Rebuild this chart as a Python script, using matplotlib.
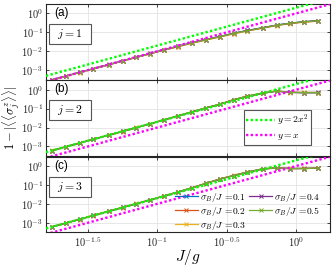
# -*- coding: utf-8 -*-
"""Three stacked log-log panels of 1 - |<<sigma_j^z>>| versus J/g."""

import numpy as np
import matplotlib
matplotlib.use('Agg')
import matplotlib.pyplot as plt
from matplotlib.patches import Rectangle

plt.rcParams['mathtext.fontset'] = 'cm'
plt.rcParams['font.family'] = ['Liberation Sans', 'DejaVu Sans']

# J/g sample points (log10):
vecLogJg = [-1.76, -1.66, -1.56, -1.46, -1.35, -1.25, -1.15, -1.05, -0.95,
            -0.85, -0.75, -0.65, -0.55, -0.45, -0.35, -0.24, -0.14, -0.04,
            0.06, 0.16]

# Disorder strengths:
lstSigma = ['0.1', '0.2', '0.3', '0.4', '0.5']

# log10(1 - |<<sigma_j^z>>|), one row per sigma_B/J, site j = 1:
lstLogJ1 = [
    [-3.52, -3.32, -3.12, -2.92, -2.71, -2.51, -2.31, -2.12, -1.93, -1.74,
     -1.55, -1.38, -1.22, -1.05, -0.90, -0.75, -0.61, -0.51, -0.43, -0.38],
    [-3.53, -3.33, -3.12, -2.93, -2.72, -2.52, -2.32, -2.13, -1.94, -1.75,
     -1.57, -1.40, -1.24, -1.07, -0.92, -0.77, -0.63, -0.53, -0.45, -0.40],
    [-3.54, -3.33, -3.13, -2.94, -2.72, -2.52, -2.33, -2.13, -1.94, -1.76,
     -1.58, -1.41, -1.25, -1.08, -0.93, -0.78, -0.64, -0.54, -0.46, -0.41],
    [-3.51, -3.31, -3.11, -2.92, -2.70, -2.50, -2.31, -2.11, -1.92, -1.73,
     -1.55, -1.38, -1.22, -1.05, -0.90, -0.76, -0.62, -0.52, -0.44, -0.39],
    [-3.52, -3.32, -3.12, -2.93, -2.71, -2.51, -2.32, -2.12, -1.93, -1.74,
     -1.56, -1.39, -1.23, -1.06, -0.91, -0.76, -0.62, -0.52, -0.44, -0.39]]

# Site j = 2:
lstLogJ2 = [
    [-3.22, -3.02, -2.82, -2.62, -2.40, -2.20, -2.00, -1.80, -1.59, -1.38,
     -1.17, -0.96, -0.77, -0.53, -0.34, -0.18, -0.08, -0.14, -0.16, -0.16],
    [-3.23, -3.03, -2.83, -2.62, -2.41, -2.21, -2.01, -1.81, -1.60, -1.39,
     -1.18, -0.97, -0.78, -0.54, -0.35, -0.19, -0.07, -0.13, -0.15, -0.15],
    [-3.21, -3.01, -2.81, -2.61, -2.39, -2.19, -1.99, -1.79, -1.58, -1.37,
     -1.16, -0.95, -0.76, -0.52, -0.33, -0.17, -0.06, -0.15, -0.14, -0.15],
    [-3.22, -3.02, -2.82, -2.62, -2.40, -2.20, -2.00, -1.80, -1.59, -1.38,
     -1.17, -0.96, -0.77, -0.53, -0.34, -0.18, -0.07, -0.14, -0.15, -0.14],
    [-3.22, -3.02, -2.82, -2.62, -2.40, -2.20, -2.00, -1.80, -1.59, -1.38,
     -1.17, -0.96, -0.77, -0.53, -0.34, -0.18, -0.07, -0.14, -0.15, -0.15]]

# Site j = 3:
lstLogJ3 = [
    [-3.22, -3.02, -2.82, -2.61, -2.39, -2.19, -1.99, -1.79, -1.58, -1.37,
     -1.15, -0.92, -0.69, -0.50, -0.32, -0.15, -0.10, -0.13, -0.13, -0.11],
    [-3.23, -3.03, -2.83, -2.62, -2.40, -2.20, -2.00, -1.80, -1.59, -1.38,
     -1.16, -0.93, -0.70, -0.51, -0.33, -0.16, -0.11, -0.14, -0.12, -0.12],
    [-3.21, -3.01, -2.81, -2.60, -2.38, -2.18, -1.98, -1.78, -1.57, -1.36,
     -1.14, -0.91, -0.68, -0.49, -0.31, -0.14, -0.09, -0.12, -0.14, -0.10],
    [-3.22, -3.02, -2.82, -2.61, -2.39, -2.19, -1.99, -1.79, -1.58, -1.37,
     -1.15, -0.92, -0.69, -0.50, -0.32, -0.15, -0.10, -0.13, -0.13, -0.11],
    [-3.22, -3.02, -2.82, -2.61, -2.39, -2.19, -1.99, -1.79, -1.58, -1.37,
     -1.15, -0.92, -0.69, -0.50, -0.32, -0.15, -0.10, -0.13, -0.13, -0.11]]

lstPanels = [lstLogJ1, lstLogJ2, lstLogJ3]
lstPanelLbl = ['(a)', '(b)', '(c)']
lstSiteLbl = ['$j=1$', '$j=2$', '$j=3$']

# Axis ticks:
vecXtickExp = [-1.5, -1.0, -0.5, 0.0]
lstXtickLbl = [r'$10^{-1.5}$', r'$10^{-1}$', r'$10^{-0.5}$', r'$10^{0}$']
vecYtickExp = [-3, -2, -1, 0]
lstYtickLbl = [r'$10^{-3}$', r'$10^{-2}$', r'$10^{-1}$', r'$10^{0}$']

# MATLAB default colours:
lstClr = ['#0072BD', '#D95319', '#EDB120', '#7E2F8E', '#77AC30']
strClrBox = '#262626'

varDpi = 100
fgr01 = plt.figure(figsize=(334.0/varDpi, 266.0/varDpi), dpi=varDpi)

vecX = np.power(10.0, np.array(vecLogJg))
tplXlim = (10.0**-1.802, 10.0**0.245)
vecXfit = np.logspace(np.log10(tplXlim[0]), np.log10(tplXlim[1]), 200)

varLeft = 46.0 / 334.0
varWidth = 284.0 / 334.0
varHght = 75.6 / 266.0
lstTop = [4.0, 80.3, 156.6]

for idxPnl in range(3):
    axs = fgr01.add_axes([varLeft, 1.0 - (lstTop[idxPnl] + 75.6) / 266.0,
                          varWidth, varHght])

    # Data series:
    for idxSer in range(len(lstSigma)):
        axs.plot(vecX, np.power(10.0, np.array(lstPanels[idxPnl][idxSer])),
                 color=lstClr[idxSer],
                 marker='x',
                 markersize=3.2,
                 markeredgewidth=0.7,
                 linewidth=0.9,
                 label=(r'$\sigma_B/J\,=\!\mathrm{' + lstSigma[idxSer]
                        + '}$'),
                 zorder=3)

    # Reference power laws:
    axs.plot(vecXfit, 2.0 * vecXfit**2, color='#00FF00',
             linestyle=(0, (1, 1)), linewidth=1.7, label=r'$y=2x^2$',
             zorder=4)
    axs.plot(vecXfit, vecXfit**2, color='#FF00FF',
             linestyle=(0, (1, 1)), linewidth=1.7, label=r'$y=x$',
             zorder=4)

    axs.set_xscale('log')
    axs.set_yscale('log')
    axs.set_xlim(tplXlim)
    axs.set_ylim(10.0**-3.5, 10.0**0.5)

    axs.set_xticks(np.power(10.0, vecXtickExp))
    axs.set_yticks(np.power(10.0, np.array(vecYtickExp, dtype=float)))
    axs.minorticks_off()
    axs.set_yticklabels(lstYtickLbl)
    if idxPnl == 2:
        axs.set_xticklabels(lstXtickLbl)
    else:
        axs.set_xticklabels([])

    axs.grid(True, color='#e3e3e3', linewidth=0.6)
    axs.set_axisbelow(True)
    for strSpn in axs.spines:
        axs.spines[strSpn].set_color(strClrBox)
        axs.spines[strSpn].set_linewidth(0.8)
    axs.tick_params(direction='in', length=2.5, width=0.6, top=True,
                    right=True, labelsize=7.5, pad=2, colors=strClrBox)

    # Panel label and site box:
    axs.text(0.03, 0.88, lstPanelLbl[idxPnl], transform=axs.transAxes,
             fontsize=8.5, ha='left', va='center', color='k')
    axs.add_patch(Rectangle((0.011, 0.471), 0.147, 0.264,
                            transform=axs.transAxes, facecolor='w',
                            edgecolor='#555555', linewidth=0.8, zorder=5))
    axs.text(0.0845, 0.603, lstSiteLbl[idxPnl], transform=axs.transAxes,
             fontsize=8.5, ha='center', va='center', zorder=6)

    lstHnd, lstLbl = axs.get_legend_handles_labels()
    if idxPnl == 1:
        lgd = axs.legend(lstHnd[5:], lstLbl[5:], loc='upper left',
                         bbox_to_anchor=(0.697, 0.607), fontsize=7,
                         handlelength=2.9, handletextpad=0.2,
                         labelspacing=0.25, borderpad=0.25,
                         borderaxespad=0.0, fancybox=False, framealpha=1.0)
        lgd.get_frame().set_edgecolor('#555555')
        lgd.get_frame().set_linewidth(0.8)
    if idxPnl == 2:
        lgd = axs.legend(lstHnd[:5], lstLbl[:5], loc='upper left',
                         bbox_to_anchor=(0.45, 0.56), ncol=2, fontsize=6.9,
                         handlelength=2.4, handletextpad=0.2,
                         labelspacing=0.1, borderpad=0.1,
                         columnspacing=0.4, borderaxespad=0.0,
                         frameon=False)

# Axis labels:
fgr01.text(188.0/334.0, 1.0 - 257.0/266.0, r'$J/g$', fontsize=11,
           ha='center', va='center')
fgr01.text(11.5/334.0, 1.0 - 118.0/266.0,
           r'$1-|\langle\langle\sigma_j^z\rangle\rangle|$', fontsize=9,
           ha='center', va='center', rotation=90)

fgr01.savefig('out.png', dpi=varDpi, facecolor='w')
plt.close(fgr01)
